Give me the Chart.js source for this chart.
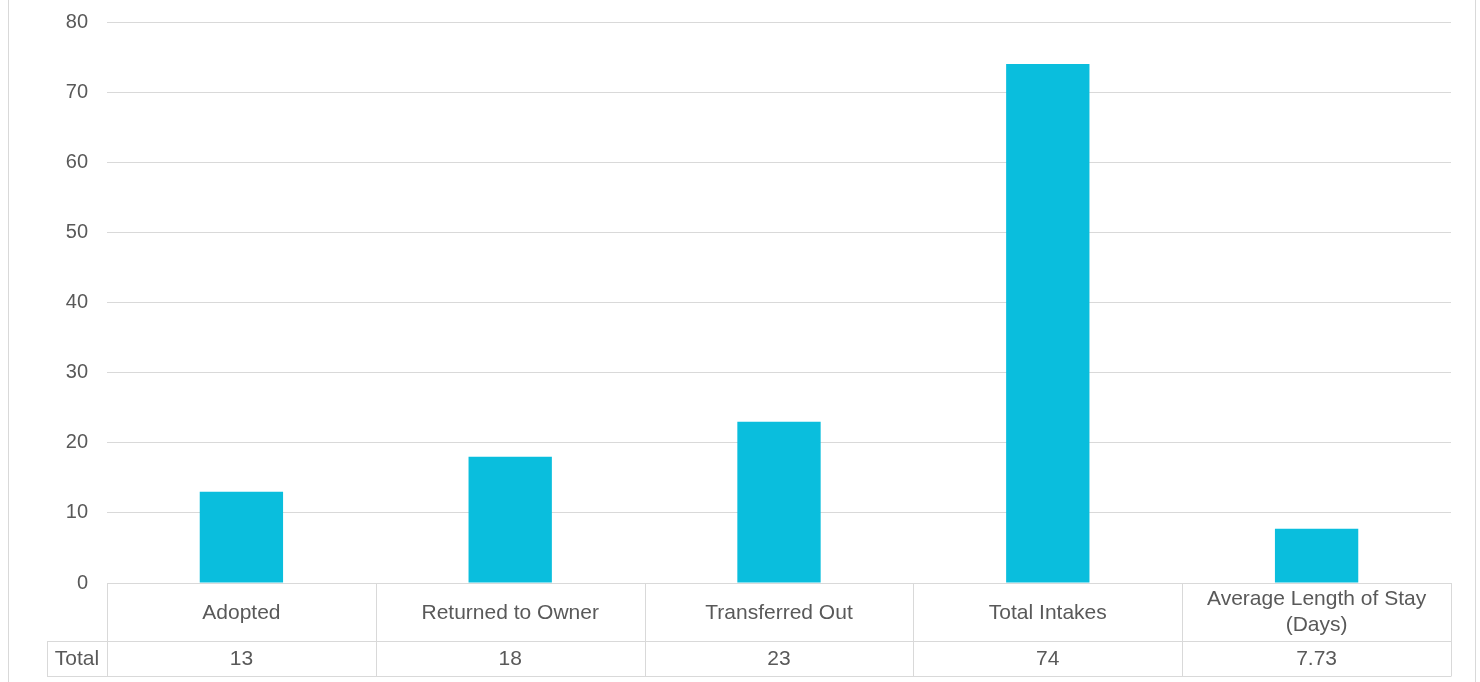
<!DOCTYPE html>
<html>
<head>
<meta charset="utf-8">
<script src="https://cdn.jsdelivr.net/npm/chart.js@4/dist/chart.umd.min.js"></script>
<style>
html,body{margin:0;padding:0;background:#fff;}
#wrap{width:1480px;height:682px;position:relative;}
</style>
</head>
<body>
<div id="wrap"><canvas id="c" width="1480" height="682"></canvas></div>
<script>
const categories = ['Adopted', 'Returned to Owner', 'Transferred Out', 'Total Intakes', ['Average Length of Stay', '(Days)']];
const seriesName = 'Total';
const totals = [13, 18, 23, 74, 7.73];
const tableValues = ['13', '18', '23', '74', '7.73'];
const yTicks = [0, 10, 20, 30, 40, 50, 60, 70, 80];

const FONT = '"Liberation Sans", Arial, sans-serif';
const TEXT = '#595959';
const LINE = '#d9d9d9';
const BAR = '#0abedd';

const tablePlugin = {
  id: 'dataTable',
  afterDraw(chart) {
    const ctx = chart.ctx;
    const x = chart.scales.x;
    const area = chart.chartArea;
    const n = categories.length;
    const w = (x.getPixelForValue(1) - x.getPixelForValue(0));
    const left = x.getPixelForValue(0) - w / 2;
    const right = x.getPixelForValue(n - 1) + w / 2;
    const r0 = area.bottom;
    const r1 = r0 + 58;
    const r2 = r1 + 35;
    const hdrLeft = left - 60;
    ctx.save();
    ctx.strokeStyle = LINE;
    ctx.lineWidth = 1;
    const h = (x1, x2, y) => { ctx.beginPath(); ctx.moveTo(x1, Math.round(y) + 0.5); ctx.lineTo(x2, Math.round(y) + 0.5); ctx.stroke(); };
    const v = (xx, y1, y2) => { ctx.beginPath(); ctx.moveTo(Math.round(xx) + 0.5, y1); ctx.lineTo(Math.round(xx) + 0.5, y2); ctx.stroke(); };
    h(left, right, r0);
    h(hdrLeft, right, r1);
    h(hdrLeft, right, r2);
    v(hdrLeft, r1, r2 + 0.5);
    for (let i = 0; i <= n; i++) v(left + i * w, r0, r2 + 0.5);
    v(8, 0, 682);
    v(1475, 0, 682);
    ctx.fillStyle = TEXT;
    ctx.font = '21px ' + FONT;
    ctx.textAlign = 'center';
    ctx.textBaseline = 'middle';
    for (let i = 0; i < n; i++) {
      const cx = x.getPixelForValue(i);
      const lab = categories[i];
      if (Array.isArray(lab)) {
        const lh = 26;
        const start = (r0 + r1) / 2 - (lab.length - 1) * lh / 2;
        lab.forEach((t, k) => ctx.fillText(t, cx, start + k * lh));
      } else {
        ctx.fillText(lab, cx, (r0 + r1) / 2 + 1);
      }
      ctx.fillText(tableValues[i], cx, (r1 + r2) / 2 + 1);
    }
    ctx.fillText(seriesName, (hdrLeft + left) / 2, (r1 + r2) / 2 + 1);
    ctx.restore();
  }
};

new Chart(document.getElementById('c'), {
  type: 'bar',
  data: {
    labels: categories,
    datasets: [{
      label: seriesName,
      data: totals,
      backgroundColor: BAR,
      borderWidth: 0,
      categoryPercentage: 1,
      barPercentage: 0.31
    }]
  },
  options: {
    responsive: false,
    animation: false,
    layout: { padding: { top: 22, bottom: 99, left: 0, right: 29 } },
    plugins: { legend: { display: false }, tooltip: { enabled: false } },
    scales: {
      x: {
        display: false,
        grid: { display: false }
      },
      y: {
        min: 0, max: 80,
        afterFit(scale) { scale.width = 107; scale.paddingTop = 0; scale.paddingBottom = 0; },
        afterBuildTicks(scale) { scale.ticks = yTicks.map(v => ({ value: v })); },
        border: { display: false },
        grid: { color: LINE, drawTicks: false, lineWidth: 1 },
        ticks: { color: TEXT, padding: 19, font: { family: FONT, size: 20 } }
      }
    }
  },
  plugins: [tablePlugin]
});
</script>
</body>
</html>
